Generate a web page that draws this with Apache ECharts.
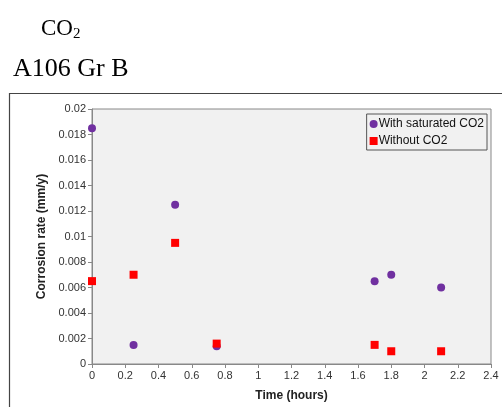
<!DOCTYPE html>
<html>
<head>
<meta charset="utf-8">
<script src="https://cdn.jsdelivr.net/npm/echarts@6/dist/echarts.min.js"></script>
<style>
  html, body { margin: 0; padding: 0; background: #fff; }
  #chart { width: 502px; height: 407px; }
</style>
</head>
<body>
<div id="chart"></div>
<script>
// time (hours) for every measurement
const timeHours = [0, 0.25, 0.5, 0.75, 1.7, 1.8, 2.1];
// corrosion rate (mm/y)
const withCO2 = [0.0185, 0.0015, 0.0125, 0.0014, 0.0065, 0.007, 0.006];
const withoutCO2 = [0.0065, 0.007, 0.0095, 0.0016, 0.0015, 0.001, 0.001];
const seriesNames = ['With saturated CO2', 'Without CO2'];

const pairs = (xs, ys) => xs.map((x, i) => [x, ys[i]]);

const myChart = echarts.init(document.getElementById('chart'));

const option = {
  animation: false,
  title: [
    {
      text: '{a|CO}{b|2}',
      left: 36,
      top: 11,
      textStyle: {
        rich: {
          a: { fontFamily: 'Liberation Serif', fontSize: 23, fontWeight: 'normal', color: '#000' },
          b: { fontFamily: 'Liberation Serif', fontSize: 15, fontWeight: 'normal', color: '#000', padding: [11, 0, 0, 0] }
        }
      }
    },
    {
      text: 'A106 Gr B',
      left: 8,
      top: 51,
      textStyle: { fontFamily: 'Liberation Serif', fontSize: 26, fontWeight: 'normal', color: '#000' }
    }
  ],
  graphic: [
    {
      type: 'rect',
      shape: { x: 9.5, y: 93.5, width: 600, height: 400 },
      style: { fill: 'none', stroke: '#444', lineWidth: 1.2 },
      silent: true
    }
  ],
  grid: {
    left: 92,
    top: 109,
    right: 11,
    bottom: 40,
    show: true,
    backgroundColor: '#f1f1f1',
    borderColor: '#888',
    borderWidth: 1
  },
  legend: {
    data: seriesNames,
    orient: 'vertical',
    right: 15,
    top: 114,
    itemWidth: 8,
    itemHeight: 8,
    itemGap: 5,
    padding: [4, 3, 3, 3],
    borderColor: '#555',
    borderWidth: 1,
    backgroundColor: '#f1f1f1',
    textStyle: { fontFamily: 'Liberation Sans', fontSize: 12, color: '#111', padding: [0, 0, 0, -4] }
  },
  xAxis: {
    type: 'value',
    min: 0,
    max: 2.4,
    interval: 0.2,
    name: 'Time (hours)',
    nameLocation: 'middle',
    nameGap: 26,
    nameTextStyle: { fontFamily: 'Liberation Sans', fontSize: 12, fontWeight: 'bold', color: '#222' },
    axisLine: { lineStyle: { color: '#888' } },
    axisTick: { show: true, length: 4, lineStyle: { color: '#888' } },
    splitLine: { show: false },
    axisLabel: { fontFamily: 'Liberation Sans', fontSize: 11, color: '#333', margin: 6 }
  },
  yAxis: {
    type: 'value',
    min: 0,
    max: 0.02,
    interval: 0.002,
    name: 'Corrosion rate (mm/y)',
    nameLocation: 'middle',
    nameGap: 44,
    nameTextStyle: { fontFamily: 'Liberation Sans', fontSize: 12, fontWeight: 'bold', color: '#222' },
    axisLine: { show: true, lineStyle: { color: '#888' } },
    axisTick: { show: true, length: 4, lineStyle: { color: '#888' } },
    splitLine: { show: false },
    axisLabel: { fontFamily: 'Liberation Sans', fontSize: 11, color: '#333', margin: 6 }
  },
  series: [
    {
      name: seriesNames[0],
      type: 'scatter',
      symbol: 'circle',
      symbolSize: 8,
      itemStyle: { color: '#7030A0', opacity: 1 },
      data: pairs(timeHours, withCO2),
      z: 3
    },
    {
      name: seriesNames[1],
      type: 'scatter',
      symbol: 'rect',
      symbolSize: 8,
      itemStyle: { color: '#FF0000', opacity: 1 },
      data: pairs(timeHours, withoutCO2),
      z: 4
    }
  ]
};

myChart.setOption(option);
</script>
</body>
</html>
